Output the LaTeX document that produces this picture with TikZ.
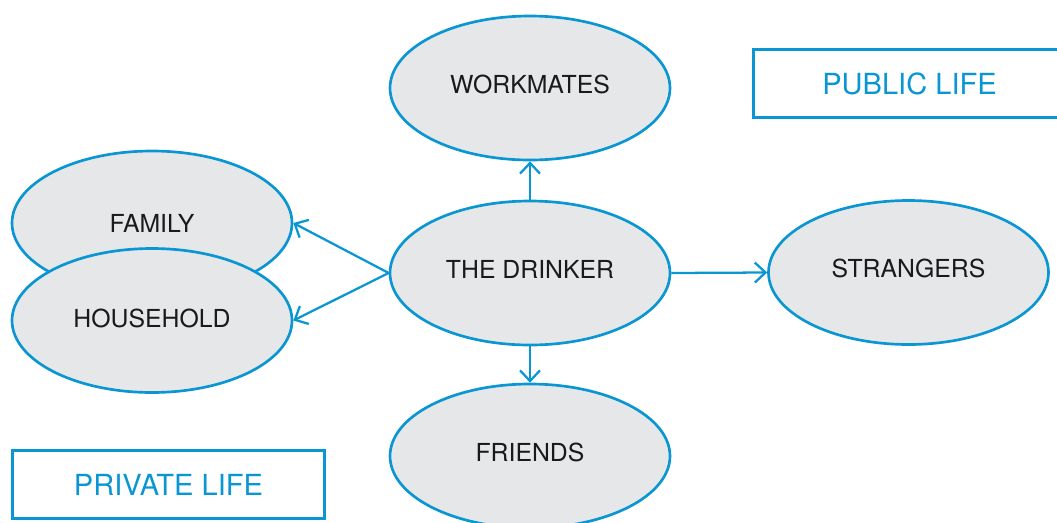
\documentclass[tikz,border=0pt]{standalone}
\usepackage{fontspec}
\setmainfont{TeX Gyre Heros}
\usetikzlibrary{shapes.geometric,arrows.meta}
\definecolor{lineblue}{HTML}{0A96D2}
\definecolor{ellfill}{HTML}{E6E7E9}
\definecolor{txt}{HTML}{1A1A1A}
\tikzset{
  ell/.style={ellipse,draw=lineblue,fill=ellfill,line width=2pt,
    minimum width=210pt,minimum height=108pt,inner sep=0pt},
  lbl/.style={font=\fontsize{18.6}{20}\selectfont,text=txt,yshift=3pt,inner sep=0pt},
  lifebox/.style={draw=lineblue,line width=2pt,minimum width=234pt,minimum height=51pt,
    inner sep=0pt,text=lineblue,font=\fontsize{21.8}{24}\selectfont},
  conn/.style={draw=lineblue,line width=1.7pt,-{Straight Barb[length=8pt,width=15pt,line width=1.7pt]}}
}
\begin{document}
\begin{tikzpicture}[x=0.75pt,y=-0.75pt]
\useasboundingbox (0,0) rectangle (1057,522);
\node[ell,label={[lbl]center:WORKMATES}] (work) at (530,88) {};
\node[ell,label={[lbl,yshift=-3pt]center:FAMILY}] (family) at (152,223) {};
\node[ell,label={[lbl,yshift=-1.5pt]center:HOUSEHOLD}] (house) at (152,320.5) {};
\node[ell,label={[lbl]center:THE DRINKER}] (drinker) at (530,273) {};
\node[ell,label={[lbl]center:STRANGERS}] (strangers) at (908.5,272.5) {};
\node[ell,label={[lbl]center:FRIENDS}] (friends) at (530,456) {};
\node[lifebox] (public) at (909.5,83.5) {PUBLIC LIFE};
\node[lifebox] (private) at (168.5,484.5) {PRIVATE LIFE};
\draw[conn] (drinker.north) -- (work.south);
\draw[conn] (drinker.south) -- (friends.north);
\draw[conn] (drinker.east) -- (strangers.west);
\draw[conn] (drinker.west) -- (family.east);
\draw[conn] (drinker.west) -- (house.east);
\end{tikzpicture}
\end{document}
